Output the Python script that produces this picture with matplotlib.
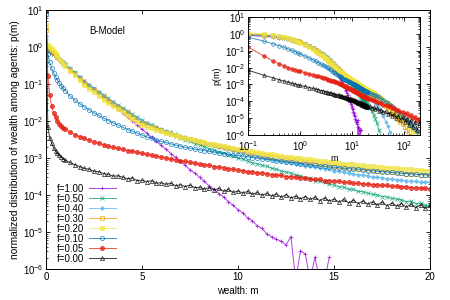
import numpy as np
import matplotlib
matplotlib.use('Agg')
import matplotlib.pyplot as plt
from matplotlib.ticker import LogLocator, NullFormatter, FixedLocator

plt.rcParams['font.family'] = ['Liberation Sans', 'DejaVu Sans']
plt.rcParams['mathtext.default'] = 'regular'

#wealth grid of the main panel
m_main = np.concatenate([[0.0], np.round(np.arange(0.1, 1.01, 0.1), 2), np.arange(1.25, 20.01, 0.25)])

#extra tail points, only seen in the log-log inset
m_tail = [22, 24, 26, 28, 30, 33, 36, 40, 44, 48, 53, 58, 64, 70, 77, 85, 93,
          102, 112, 123, 135, 148, 162, 178, 195]

labels = ['f=1.00', 'f=0.50', 'f=0.40', 'f=0.30', 'f=0.20', 'f=0.10', 'f=0.05', 'f=0.00']

#log10 p(m)
logp_100 = [0.00,
            -0.09, -0.14, -0.18, -0.22, -0.27, -0.31, -0.35, -0.40, -0.44, -0.48,
            -0.59, -0.70, -0.81, -0.92, -1.03, -1.14, -1.24, -1.35,
            -1.46, -1.57, -1.68, -1.79, -1.90, -2.00, -2.11, -2.22,
            -2.33, -2.44, -2.55, -2.66, -2.76, -2.88, -2.98, -3.09,
            -3.20, -3.32, -3.41, -3.52, -3.63, -3.76, -3.84, -3.96,
            -4.05, -4.18, -4.28, -4.40, -4.48, -4.62, -4.70, -4.83,
            -4.90, -5.05, -5.12, -5.20, -5.25, -5.35, -5.12, -6.30,
            -5.50, -5.60, -6.30, -5.68, -6.30, -6.30, -5.68, np.nan] + [np.nan] * 20
logp_050 = [0.15,
            -0.05, -0.10, -0.14, -0.19, -0.23, -0.28, -0.32, -0.37, -0.41, -0.46,
            -0.58, -0.69, -0.81, -0.93, -1.03, -1.12, -1.21, -1.30,
            -1.39, -1.48, -1.57, -1.65, -1.74, -1.82, -1.90, -1.98,
            -2.05, -2.12, -2.19, -2.25, -2.30, -2.35, -2.41, -2.45,
            -2.51, -2.55, -2.61, -2.65, -2.69, -2.75, -2.78, -2.83,
            -2.86, -2.92, -2.95, -3.01, -3.03, -3.08, -3.13, -3.15,
            -3.20, -3.22, -3.28, -3.30, -3.35, -3.38, -3.41, -3.46,
            -3.48, -3.53, -3.55, -3.61, -3.63, -3.66, -3.71, -3.73,
            -3.77, -3.79, -3.84, -3.85, -3.90, -3.91, -3.95, -3.98,
            -4.00, -4.04, -4.05, -4.09, -4.11, -4.13, -4.18, -4.17,
            -4.23, -4.22, -4.28, -4.27]
logp_040 = [0.30,
            -0.02, -0.07, -0.12, -0.17, -0.22, -0.27, -0.32, -0.37, -0.42, -0.47,
            -0.59, -0.71, -0.83, -0.95, -1.05, -1.14, -1.23, -1.32,
            -1.41, -1.50, -1.59, -1.68, -1.77, -1.85, -1.93, -2.00,
            -2.06, -2.11, -2.17, -2.22, -2.27, -2.31, -2.36, -2.40,
            -2.44, -2.48, -2.51, -2.55, -2.59, -2.62, -2.66, -2.70,
            -2.73, -2.77, -2.80, -2.83, -2.86, -2.90, -2.92, -2.95,
            -2.98, -3.01, -3.03, -3.05, -3.09, -3.10, -3.13, -3.16,
            -3.17, -3.21, -3.22, -3.24, -3.27, -3.29, -3.31, -3.35,
            -3.36, -3.39, -3.40, -3.42, -3.45, -3.46, -3.48, -3.51,
            -3.52, -3.53, -3.56, -3.56, -3.59, -3.59, -3.62, -3.62,
            -3.63, -3.66, -3.64, -3.66]
logp_030 = [0.45,
            0.00, -0.05, -0.10, -0.16, -0.21, -0.27, -0.33, -0.39, -0.44, -0.50,
            -0.62, -0.74, -0.86, -0.98, -1.08, -1.17, -1.27, -1.36,
            -1.45, -1.53, -1.62, -1.70, -1.79, -1.88, -1.96, -2.05,
            -2.10, -2.15, -2.20, -2.25, -2.30, -2.34, -2.38, -2.42,
            -2.46, -2.49, -2.53, -2.56, -2.59, -2.62, -2.65, -2.68,
            -2.71, -2.74, -2.76, -2.79, -2.82, -2.84, -2.87, -2.89,
            -2.91, -2.94, -2.96, -2.98, -3.00, -3.02, -3.04, -3.06,
            -3.08, -3.10, -3.12, -3.14, -3.16, -3.17, -3.19, -3.21,
            -3.22, -3.24, -3.26, -3.27, -3.29, -3.30, -3.32, -3.33,
            -3.34, -3.36, -3.37, -3.38, -3.39, -3.41, -3.42, -3.43,
            -3.44, -3.45, -3.46, -3.47]
logp_020 = [0.60,
            0.06, 0.00, -0.06, -0.12, -0.18, -0.25, -0.32, -0.39, -0.45, -0.52,
            -0.64, -0.77, -0.90, -1.03, -1.13, -1.23, -1.32, -1.42,
            -1.51, -1.60, -1.68, -1.77, -1.86, -1.94, -2.02, -2.10,
            -2.15, -2.19, -2.24, -2.28, -2.32, -2.36, -2.39, -2.43,
            -2.46, -2.49, -2.52, -2.55, -2.58, -2.61, -2.63, -2.66,
            -2.68, -2.71, -2.73, -2.75, -2.77, -2.80, -2.82, -2.84,
            -2.86, -2.88, -2.90, -2.92, -2.94, -2.96, -2.97, -2.99,
            -3.01, -3.03, -3.04, -3.06, -3.08, -3.09, -3.11, -3.12,
            -3.13, -3.15, -3.16, -3.17, -3.19, -3.20, -3.21, -3.22,
            -3.24, -3.25, -3.26, -3.27, -3.28, -3.29, -3.30, -3.31,
            -3.32, -3.33, -3.34, -3.35]
logp_010 = [0.90,
            -0.20, -0.42, -0.58, -0.70, -0.80, -0.90, -0.98, -1.05, -1.12, -1.18,
            -1.32, -1.43, -1.53, -1.62, -1.70, -1.78, -1.85, -1.92,
            -1.99, -2.05, -2.11, -2.17, -2.23, -2.28, -2.33, -2.38,
            -2.43, -2.47, -2.51, -2.55, -2.58, -2.62, -2.65, -2.68,
            -2.71, -2.73, -2.76, -2.78, -2.80, -2.82, -2.84, -2.86,
            -2.88, -2.90, -2.92, -2.93, -2.95, -2.97, -2.99, -3.00,
            -3.02, -3.04, -3.05, -3.07, -3.09, -3.10, -3.12, -3.13,
            -3.15, -3.16, -3.18, -3.20, -3.21, -3.22, -3.24, -3.25,
            -3.26, -3.28, -3.29, -3.30, -3.31, -3.32, -3.34, -3.35,
            -3.36, -3.37, -3.38, -3.39, -3.40, -3.41, -3.42, -3.43,
            -3.44, -3.45, -3.45, -3.46]
logp_005 = [1.00,
            -0.78, -1.30, -1.60, -1.78, -1.90, -2.00, -2.07, -2.13, -2.18, -2.22,
            -2.30, -2.37, -2.42, -2.47, -2.52, -2.56, -2.60, -2.64,
            -2.68, -2.71, -2.74, -2.77, -2.80, -2.82, -2.85, -2.87,
            -2.90, -2.93, -2.95, -2.97, -3.00, -3.03, -3.05, -3.07,
            -3.09, -3.12, -3.14, -3.17, -3.18, -3.20, -3.23, -3.24,
            -3.26, -3.29, -3.30, -3.32, -3.34, -3.37, -3.37, -3.40,
            -3.41, -3.42, -3.45, -3.46, -3.47, -3.50, -3.50, -3.52,
            -3.53, -3.55, -3.56, -3.58, -3.58, -3.61, -3.61, -3.63,
            -3.63, -3.66, -3.66, -3.68, -3.68, -3.70, -3.70, -3.72,
            -3.72, -3.74, -3.74, -3.76, -3.76, -3.78, -3.78, -3.80,
            -3.80, -3.82, -3.82, -3.84]
logp_000 = [1.00,
            -2.15, -2.45, -2.60, -2.72, -2.80, -2.87, -2.93, -2.98, -3.02, -3.06,
            -3.12, -3.18, -3.23, -3.28, -3.30, -3.36, -3.37, -3.42,
            -3.44, -3.49, -3.48, -3.52, -3.56, -3.54, -3.61, -3.60,
            -3.64, -3.61, -3.68, -3.67, -3.71, -3.68, -3.75, -3.72,
            -3.77, -3.73, -3.80, -3.79, -3.84, -3.80, -3.86, -3.82,
            -3.90, -3.85, -3.93, -3.89, -3.95, -3.90, -3.98, -3.93,
            -4.01, -3.95, -4.03, -3.97, -4.06, -3.99, -4.08, -4.03,
            -4.10, -4.04, -4.12, -4.06, -4.15, -4.08, -4.16, -4.11,
            -4.19, -4.12, -4.21, -4.14, -4.23, -4.16, -4.25, -4.18,
            -4.27, -4.19, -4.29, -4.22, -4.30, -4.23, -4.33, -4.25,
            -4.34, -4.26, -4.36, -4.28]

#tails for the inset (m = m_tail)
tail_100 = [np.nan] * 25
tail_050 = [-4.42, -4.60, -4.80, -5.05, -5.30, -5.70, -6.10] + [np.nan] * 18
tail_040 = [-3.75, -3.85, -3.98, -4.10, -4.22, -4.42, -4.62, -4.90, -5.20, -5.45,
            -5.80, -6.20] + [np.nan] * 13
tail_030 = [-3.52, -3.60, -3.66, -3.74, -3.80, -3.90, -4.00, -4.13, -4.25, -4.36,
            -4.50, -4.62, -4.76, -4.90, -5.05, -5.20, -5.35, -5.50, -5.68, -5.85,
            -6.05, np.nan, np.nan, np.nan, np.nan]
tail_020 = [-3.40, -3.46, -3.52, -3.58, -3.63, -3.72, -3.80, -3.91, -4.02, -4.12,
            -4.24, -4.35, -4.48, -4.60, -4.74, -4.88, -5.02, -5.16, -5.30, -5.45,
            -5.60, -5.75, -5.90, -6.05, np.nan]
tail_010 = [-3.50, -3.55, -3.60, -3.65, -3.70, -3.77, -3.84, -3.93, -4.02, -4.10,
            -4.20, -4.30, -4.42, -4.52, -4.64, -4.77, -4.88, -5.00, -5.12, -5.25,
            -5.38, -5.50, -5.63, -5.78, -5.92]
tail_005 = [-3.87, -3.92, -3.94, -4.00, -4.02, -4.09, -4.10, -4.19, -4.21, -4.30,
            -4.30, -4.40, -4.41, -4.51, -4.52, -4.63, -4.62, -4.74, -4.72, -4.86,
            -4.83, -4.98, -4.94, -5.10, -5.05]
tail_000 = [-4.30, -4.38, -4.36, -4.46, -4.42, -4.55, -4.50, -4.64, -4.60, -4.75,
            -4.68, -4.85, -4.78, -4.98, -4.85, -5.10, -4.95, -5.25, -5.05, -5.40,
            -5.12, -5.50, -5.20, -5.70, -5.30]

main_data = [logp_100, logp_050, logp_040, logp_030, logp_020, logp_010, logp_005, logp_000]
tail_data = [tail_100, tail_050, tail_040, tail_030, tail_020, tail_010, tail_005, tail_000]

#gnuplot-like styles
colors = ['#9400d3', '#009e73', '#56b4e9', '#e69f00', '#f0e442', '#0072b2', '#e51e10', '#000000']
markers = ['+', 'x', (8, 2, 0), 's', 's', 'o', 'o', '^']
filled = [True, True, True, False, True, False, True, False]

fig = plt.figure(figsize=(4.5, 3), dpi=100)
ax = fig.add_axes([0.102, 0.103, 0.854, 0.864])

def style(a):
    a.tick_params(which='both', direction='in', top=True, right=True, labelsize=7, pad=2)
    a.tick_params(which='major', length=3, width=0.6)
    a.tick_params(which='minor', length=1.6, width=0.5)
    for s in a.spines.values():
        s.set_linewidth(0.7)

for logp, c, mk, fl, lab in zip(main_data, colors, markers, filled, labels):
    p = 10 ** np.array(logp, dtype=float)
    ax.plot(m_main, p, color=c, lw=0.7, alpha=0.75, marker=mk, ms=3, mew=0.6,
            mfc=c if fl else 'none', mec=c, label=lab)

ax.set_yscale('log')
ax.set_xlim(0, 20)
ax.set_ylim(1e-6, 10)
ax.xaxis.set_major_locator(FixedLocator([0, 5, 10, 15, 20]))
ax.yaxis.set_minor_locator(LogLocator(base=10, subs=np.arange(2, 10)))
ax.yaxis.set_minor_formatter(NullFormatter())
style(ax)
ax.set_xlabel('wealth: m', fontsize=7, labelpad=3)
ax.set_ylabel('normalized distribution of wealth among agents: p(m)', fontsize=7.3, labelpad=2)
ax.text(0.16, 0.92, 'B-Model', transform=ax.transAxes, fontsize=7, ha='center', va='center')

leg = ax.legend(loc='lower left', bbox_to_anchor=(0.01, -0.005), frameon=False, fontsize=7,
                markerfirst=False, handlelength=2.8, handletextpad=0.5, labelspacing=0.0,
                borderpad=0.2)

#log-log inset
axi = fig.add_axes([0.551, 0.55, 0.382, 0.393])
axi.set_facecolor('white')
for logp, tail, c, mk, fl in zip(main_data, tail_data, colors, markers, filled):
    x = np.concatenate([m_main[1:], m_tail])
    y = 10 ** np.concatenate([np.array(logp[1:], dtype=float), np.array(tail, dtype=float)])
    axi.plot(x, y, color=c, lw=0.7, alpha=0.75, marker=mk, ms=2.6, mew=0.6,
             mfc=c if fl else 'none', mec=c)
axi.set_xscale('log')
axi.set_yscale('log')
axi.set_xlim(0.1, 200)
axi.set_ylim(1e-6, 10)
axi.yaxis.set_major_locator(LogLocator(base=10, numticks=10))
axi.yaxis.set_minor_locator(LogLocator(base=10, subs=np.arange(2, 10), numticks=10))
axi.yaxis.set_minor_formatter(NullFormatter())
axi.xaxis.set_minor_formatter(NullFormatter())
style(axi)
axi.tick_params(axis='x', pad=3)
axi.set_ylabel('p(m)', fontsize=6.5, labelpad=2)
axi.set_xlabel('m', fontsize=6.5, labelpad=1)

fig.savefig('out.png', dpi=100)
